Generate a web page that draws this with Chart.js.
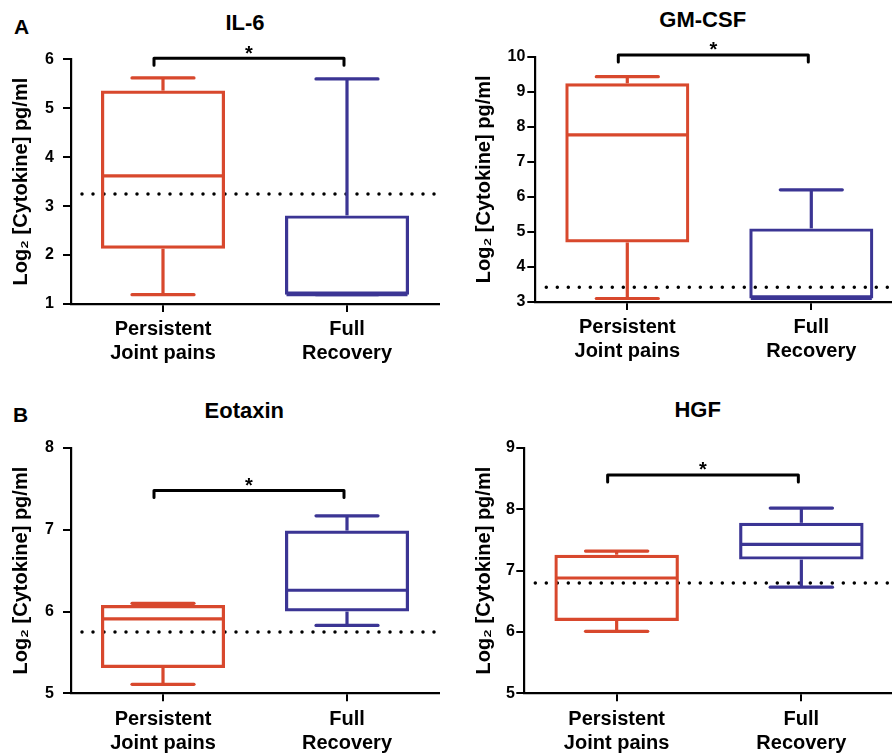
<!DOCTYPE html>
<html>
<head>
<meta charset="utf-8">
<script src="https://cdn.jsdelivr.net/npm/chart.js@4.4.1/dist/chart.umd.min.js"></script>
<style>
  html, body { margin: 0; padding: 0; background: #fff; overflow: hidden; }
  body { width: 892px; height: 753px; position: relative; font-family: "Liberation Sans", Arial, sans-serif; }
  canvas { position: absolute; }
  .label { position: absolute; font-weight: bold; line-height: 1; transform: translate(-50%, -50%); white-space: nowrap; color: #000; }
</style>
</head>
<body>
<div class="label" style="left:21.7px; top:25.8px; font-size:21px">A</div>
<div class="label" style="left:20.5px; top:414px; font-size:21px">B</div>
<div class="label" style="left:245px; top:22.7px; font-size:22px">IL-6</div>
<div class="label" style="left:702.7px; top:20px; font-size:22px">GM-CSF</div>
<div class="label" style="left:244.3px; top:411px; font-size:22px">Eotaxin</div>
<div class="label" style="left:697.7px; top:410.3px; font-size:22px">HGF</div>

<canvas id="il6" width="446" height="376" style="left:0;top:0"></canvas>
<canvas id="gmcsf" width="460" height="376" style="left:446px;top:0"></canvas>
<canvas id="eotaxin" width="446" height="377" style="left:0;top:376px"></canvas>
<canvas id="hgf" width="460" height="377" style="left:446px;top:376px"></canvas>

<script>
const groups = [['Persistent', 'Joint pains'], ['Full', 'Recovery']];
const groupColors = ['#d8482d', '#3b3594'];

// IL-6
const il6Ticks = [1, 2, 3, 4, 5, 6];
const il6Min = [1.19, 1.19];
const il6Q1 = [2.13, 1.19];
const il6Median = [3.62, 1.19];
const il6Q3 = [5.36, 2.81];
const il6Max = [5.62, 5.60];
const il6Cutoff = 3.25;
const il6Bracket = 6.02;

// GM-CSF
const gmcsfTicks = [3, 4, 5, 6, 7, 8, 9, 10];
const gmcsfMin = [3.1, 3.1];
const gmcsfQ1 = [4.7, 3.1];
const gmcsfMedian = [7.77, 3.1];
const gmcsfQ3 = [9.24, 5.1];
const gmcsfMax = [9.43, 6.2];
const gmcsfCutoff = 3.42;
const gmcsfBracket = 10.05;

// Eotaxin
const eotaxinTicks = [5, 6, 7, 8];
const eotaxinMin = [5.11, 5.83];
const eotaxinQ1 = [5.31, 6.0];
const eotaxinMedian = [5.91, 6.26];
const eotaxinQ3 = [6.08, 6.99];
const eotaxinMax = [6.10, 7.17];
const eotaxinCutoff = 5.75;
const eotaxinBracket = 7.48;

// HGF
const hgfTicks = [5, 6, 7, 8, 9];
const hgfMin = [6.01, 6.73];
const hgfQ1 = [6.18, 7.18];
const hgfMedian = [6.88, 7.43];
const hgfQ3 = [7.26, 7.78];
const hgfMax = [7.32, 8.02];
const hgfCutoff = 6.80;
const hgfBracket = 8.56;

Chart.defaults.font.family = '"Liberation Sans", Arial, sans-serif';
Chart.defaults.color = '#000';

function line(ctx, x0, y0, x1, y1) {
    ctx.beginPath();
    ctx.moveTo(x0, y0);
    ctx.lineTo(x1, y1);
    ctx.stroke();
}

// whiskers, medians, cutoff line and significance bracket
function boxExtras(p) {
    return {
        id: 'boxExtras',
        beforeDatasetsDraw(chart) {
            const ctx = chart.ctx;
            const area = chart.chartArea;
            const cy = chart.scales.y.getPixelForValue(p.cutoff);
            ctx.save();
            ctx.strokeStyle = '#000';
            ctx.lineWidth = 3.5;
            ctx.lineCap = 'round';
            ctx.setLineDash([0, 11]);
            line(ctx, area.left + 11, cy, area.right, cy);
            ctx.restore();
        },
        afterDatasetsDraw(chart) {
            const ctx = chart.ctx;
            const xs = chart.scales.x, ys = chart.scales.y;
            const bars = chart.getDatasetMeta(0).data;
            ctx.save();
            ctx.lineWidth = 3.2;
            bars.forEach((bar, i) => {
                const cx = xs.getPixelForValue(i);
                const half = bar.width / 2;
                const yMin = ys.getPixelForValue(p.min[i]);
                const yQ1 = ys.getPixelForValue(p.q1[i]);
                const yMed = ys.getPixelForValue(p.median[i]);
                const yQ3 = ys.getPixelForValue(p.q3[i]);
                const yMax = ys.getPixelForValue(p.max[i]);
                ctx.strokeStyle = groupColors[i];
                ctx.lineCap = 'butt';
                line(ctx, cx, yQ3, cx, yMax);
                line(ctx, cx, yQ1, cx, yMin);
                ctx.lineCap = 'round';
                line(ctx, cx - half / 2, yMax, cx + half / 2, yMax);
                line(ctx, cx - half / 2, yMin, cx + half / 2, yMin);
                ctx.lineCap = 'butt';
                line(ctx, cx - half + 1.5, yMed, cx + half - 1.5, yMed);
            });

            const by = ys.getPixelForValue(p.bracket);
            const x0 = xs.getPixelForValue(0) - 9;
            const x1 = xs.getPixelForValue(1) - 3;
            ctx.strokeStyle = '#000';
            ctx.lineWidth = 3;
            ctx.lineCap = 'round';
            ctx.lineJoin = 'round';
            ctx.beginPath();
            ctx.moveTo(x0, by + 7);
            ctx.lineTo(x0, by);
            ctx.lineTo(x1, by);
            ctx.lineTo(x1, by + 7);
            ctx.stroke();
            ctx.fillStyle = '#000';
            ctx.font = 'bold 20px "Liberation Sans", Arial, sans-serif';
            ctx.textAlign = 'center';
            ctx.textBaseline = 'alphabetic';
            ctx.fillText('*', (x0 + x1) / 2, by + 1.5);
            ctx.restore();
        }
    };
}

function renderPanel(p) {
    const ctx = document.getElementById(p.id).getContext('2d');
    new Chart(ctx, {
        type: 'bar',
        data: {
            labels: groups,
            datasets: [{
                data: p.q1.map((v, i) => [v, p.q3[i]]),
                backgroundColor: 'rgba(0,0,0,0)',
                borderColor: groupColors,
                borderWidth: 3.2,
                borderSkipped: false,
                barPercentage: 0.674,
                categoryPercentage: 1
            }]
        },
        options: {
            responsive: false,
            animation: false,
            events: [],
            layout: { padding: { top: p.padTop, right: p.padRight, left: 0, bottom: 0 } },
            plugins: { legend: { display: false }, tooltip: { enabled: false } },
            scales: {
                x: {
                    offset: true,
                    grid: { offset: false, drawOnChartArea: false, drawTicks: true, tickLength: 8, color: '#000', lineWidth: 2 },
                    border: { display: true, color: '#000', width: 2.2 },
                    ticks: { padding: p.labelPad, font: { size: 20, weight: 'bold', lineHeight: 1.2 }, maxRotation: 0 },
                    afterFit(scale) { scale.height = p.xHeight; }
                },
                y: {
                    min: p.ticks[0],
                    max: p.ticks[p.ticks.length - 1],
                    grid: { drawOnChartArea: false, drawTicks: true, tickLength: 8, color: '#000', lineWidth: 2 },
                    border: { display: true, color: '#000', width: 2.2 },
                    ticks: { stepSize: 1, padding: p.tickPad, font: { size: 16, weight: 'bold' } },
                    title: {
                        display: true,
                        text: 'Log\u2082 [Cytokine] pg/ml',
                        font: { size: 20, weight: 'bold', lineHeight: 1.2 },
                        padding: { top: p.titlePad, bottom: 0 }
                    },
                    afterFit(scale) { scale.width = p.yWidth; }
                }
            }
        },
        plugins: [boxExtras(p)]
    });
}

renderPanel({ id: 'il6', ticks: il6Ticks, min: il6Min, q1: il6Q1, median: il6Median, q3: il6Q3, max: il6Max,
    cutoff: il6Cutoff, bracket: il6Bracket, yWidth: 71, xHeight: 72, padTop: 59.3, padRight: 7, titlePad: 9.4, tickPad: 9, labelPad: 5 });
renderPanel({ id: 'gmcsf', ticks: gmcsfTicks, min: gmcsfMin, q1: gmcsfQ1, median: gmcsfMedian, q3: gmcsfQ3, max: gmcsfMax,
    cutoff: gmcsfCutoff, bracket: gmcsfBracket, yWidth: 89.3, xHeight: 74, padTop: 56.7, padRight: 2.7, titlePad: 26.1, tickPad: 2, labelPad: 5.2 });
renderPanel({ id: 'eotaxin', ticks: eotaxinTicks, min: eotaxinMin, q1: eotaxinQ1, median: eotaxinMedian, q3: eotaxinQ3, max: eotaxinMax,
    cutoff: eotaxinCutoff, bracket: eotaxinBracket, yWidth: 71, xHeight: 59.7, padTop: 72, padRight: 7, titlePad: 9.4, tickPad: 9, labelPad: 6.5 });
renderPanel({ id: 'hgf', ticks: hgfTicks, min: hgfMin, q1: hgfQ1, median: hgfMedian, q3: hgfQ3, max: hgfMax,
    cutoff: hgfCutoff, bracket: hgfBracket, yWidth: 78.3, xHeight: 59.7, padTop: 72, padRight: 12.3, titlePad: 26.1, tickPad: 1.5, labelPad: 6.4 });
</script>
</body>
</html>
